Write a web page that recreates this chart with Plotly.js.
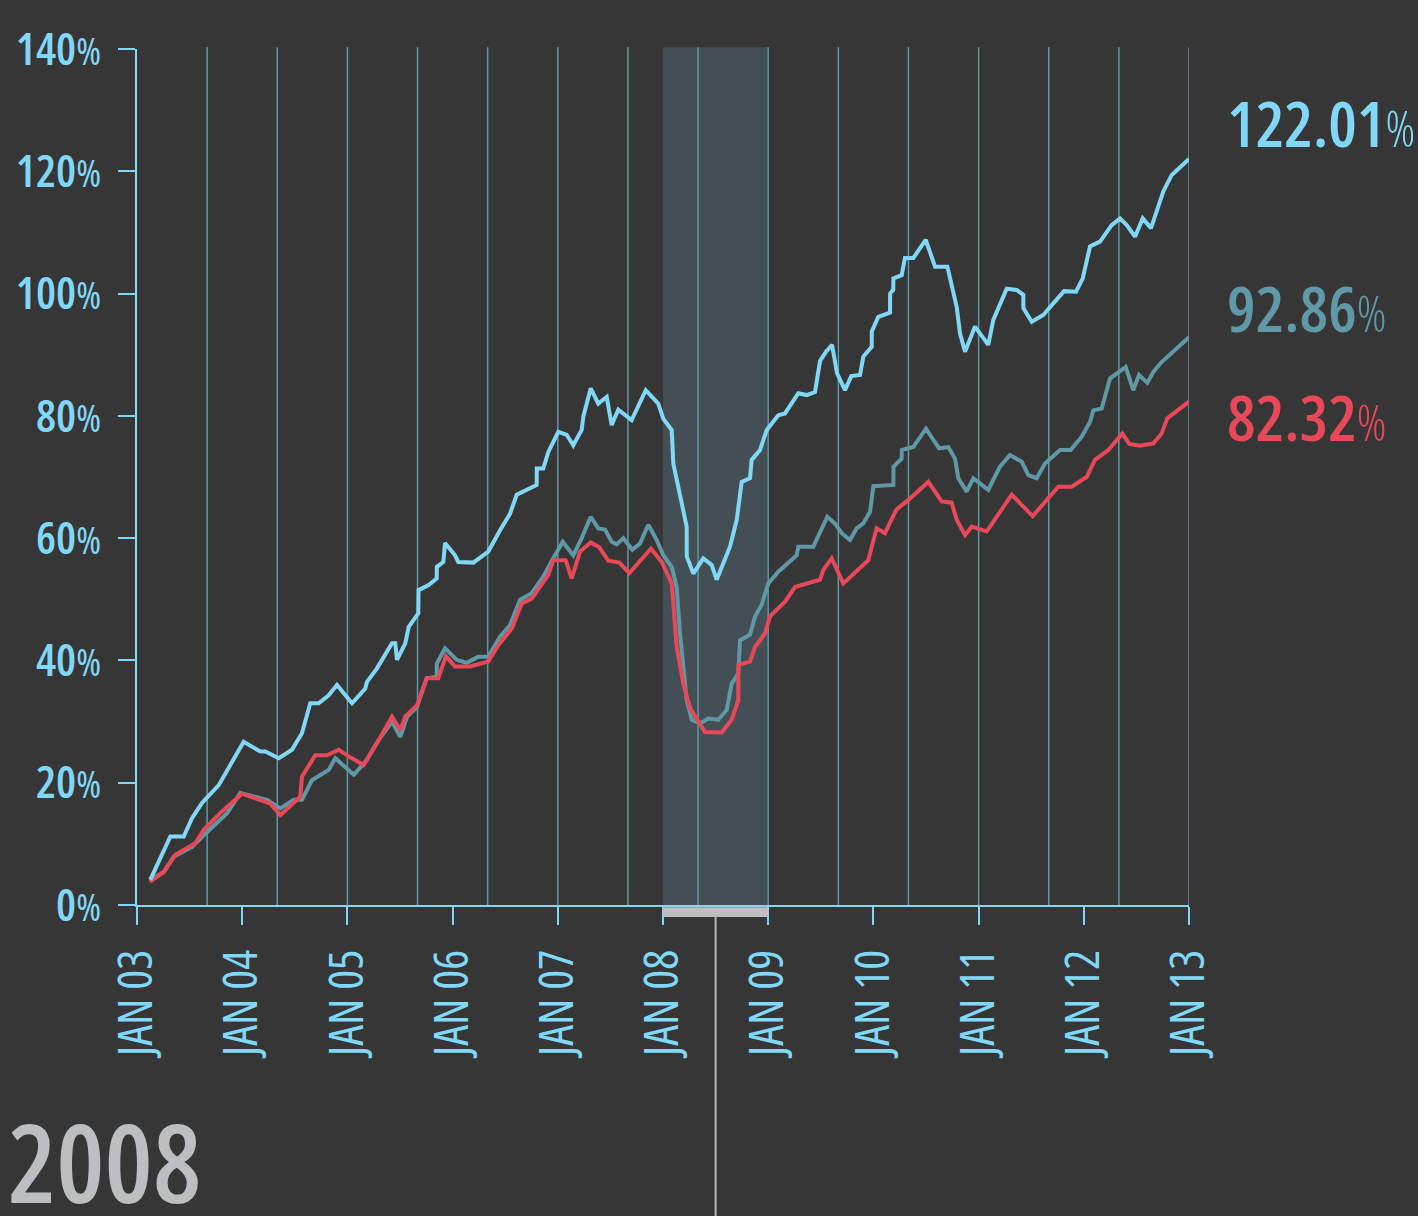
<!DOCTYPE html>
<html>
<head>
<meta charset="utf-8">
<script src="https://cdn.plot.ly/plotly-3.0.1.min.js"></script>
<style>
  html, body { margin: 0; padding: 0; background: #363636; }
  #chart { width: 1418px; height: 1216px; }
</style>
</head>
<body>
<div id="chart"></div>
<script>
// ---------- DATA (x in decimal years, y in % growth) ----------
const seriesNames = ['Top', 'Middle', 'Bottom'];
const finalLabels = ['122.01', '92.86', '82.32'];

const topX = [2003.126,2003.317,2003.444,2003.523,2003.618,2003.777,2004.014,2004.172,2004.220,2004.347,2004.473,2004.568,2004.647,2004.727,2004.822,2004.901,2005.044,2005.170,2005.186,2005.281,2005.424,2005.455,2005.471,2005.550,2005.583,2005.674,2005.676,2005.769,2005.849,2005.850,2005.912,2005.928,2006.023,2006.054,2006.197,2006.339,2006.451,2006.546,2006.609,2006.736,2006.799,2006.800,2006.862,2006.910,2007.005,2007.085,2007.147,2007.227,2007.243,2007.313,2007.385,2007.465,2007.512,2007.575,2007.702,2007.836,2007.955,2008.003,2008.083,2008.098,2008.225,2008.226,2008.288,2008.383,2008.463,2008.510,2008.637,2008.701,2008.748,2008.827,2008.843,2008.922,2008.986,2009.096,2009.160,2009.286,2009.366,2009.445,2009.461,2009.493,2009.550,2009.607,2009.654,2009.730,2009.790,2009.873,2009.904,2009.984,2009.985,2010.047,2010.158,2010.159,2010.189,2010.190,2010.269,2010.300,2010.379,2010.497,2010.586,2010.703,2010.792,2010.823,2010.871,2010.966,2011.092,2011.140,2011.267,2011.362,2011.425,2011.426,2011.505,2011.615,2011.710,2011.812,2011.926,2011.990,2012.059,2012.154,2012.265,2012.344,2012.408,2012.487,2012.560,2012.639,2012.756,2012.836,2013.000];
const topY = [4.1,11.2,11.2,14.2,16.7,19.6,26.7,25.1,25.1,24.0,25.4,28.1,33.0,33.0,34.3,36.0,33.0,35.4,36.5,38.7,42.8,42.8,40.1,42.8,45.5,47.7,51.5,52.3,53.4,55.3,56.1,59.2,57.2,56.1,56.0,57.8,61.3,64.0,67.1,68.1,68.7,71.4,71.4,74.1,77.4,76.9,75.2,77.7,79.9,84.5,82.0,83.1,78.5,81.0,79.3,84.2,82.0,79.5,77.7,72.2,61.9,57.0,54.2,56.7,55.6,53.2,58.6,63.0,69.2,69.8,72.8,74.4,77.7,80.1,80.4,83.7,83.4,83.9,85.9,89.0,90.5,91.6,87.0,84.2,86.5,86.7,89.7,91.3,93.8,96.2,96.9,100.0,100.6,102.5,103.0,105.8,105.8,108.8,104.4,104.4,97.8,93.5,90.5,94.6,91.6,95.7,100.8,100.6,99.8,97.6,95.4,96.5,98.4,100.4,100.3,102.5,107.7,108.5,111.2,112.3,111.2,109.3,112.3,110.7,116.7,119.4,122.01];

const midX = [2003.126,2003.254,2003.349,2003.523,2003.634,2003.856,2003.982,2004.236,2004.362,2004.490,2004.568,2004.663,2004.822,2004.885,2005.060,2005.170,2005.298,2005.424,2005.503,2005.567,2005.662,2005.754,2005.849,2005.850,2005.928,2006.039,2006.134,2006.244,2006.339,2006.451,2006.546,2006.641,2006.752,2006.862,2006.957,2007.047,2007.147,2007.227,2007.313,2007.385,2007.449,2007.512,2007.560,2007.623,2007.708,2007.781,2007.860,2007.940,2008.003,2008.083,2008.130,2008.162,2008.225,2008.273,2008.352,2008.431,2008.526,2008.606,2008.653,2008.716,2008.732,2008.827,2008.875,2008.938,2009.001,2009.096,2009.271,2009.286,2009.429,2009.562,2009.635,2009.699,2009.778,2009.841,2009.904,2009.968,2010.000,2010.190,2010.191,2010.269,2010.270,2010.379,2010.500,2010.624,2010.712,2010.776,2010.807,2010.887,2010.950,2011.092,2011.203,2011.298,2011.410,2011.473,2011.552,2011.631,2011.774,2011.875,2011.980,2012.059,2012.090,2012.170,2012.249,2012.398,2012.470,2012.525,2012.604,2012.661,2012.740,2012.851,2013.000];
const midY = [4.1,5.4,7.9,9.5,11.4,15.0,18.3,17.2,15.8,17.2,17.2,20.4,22.1,24.0,21.3,23.4,27.0,30.0,27.5,30.8,32.4,37.1,37.3,39.5,42.0,40.1,39.6,40.6,40.6,43.9,45.8,49.9,51.0,53.7,56.7,59.4,57.2,60.0,63.5,61.6,61.4,59.4,59.0,60.0,58.1,59.1,62.2,59.7,57.2,55.3,52.0,44.4,33.5,30.3,29.7,30.5,30.3,31.9,36.2,37.9,43.3,44.2,47.2,49.1,52.6,54.5,57.2,58.6,58.6,63.5,62.4,60.8,59.7,61.6,62.4,64.3,68.5,68.7,71.7,73.0,74.4,74.9,77.9,74.7,74.9,73.0,69.8,67.6,69.8,67.9,71.7,73.6,72.5,70.3,69.8,72.2,74.4,74.4,76.6,79.0,80.9,81.2,86.1,88.0,84.2,86.7,85.4,87.2,88.8,90.5,92.86];

const botX = [2003.121,2003.254,2003.364,2003.554,2003.634,2003.808,2003.998,2004.267,2004.362,2004.552,2004.568,2004.695,2004.806,2004.917,2005.012,2005.155,2005.298,2005.424,2005.503,2005.550,2005.662,2005.754,2005.864,2005.937,2006.023,2006.165,2006.339,2006.434,2006.562,2006.657,2006.752,2006.910,2006.957,2007.075,2007.132,2007.211,2007.313,2007.395,2007.480,2007.585,2007.680,2007.781,2007.886,2007.988,2008.035,2008.083,2008.130,2008.193,2008.257,2008.399,2008.558,2008.653,2008.716,2008.717,2008.827,2008.875,2008.970,2009.017,2009.160,2009.255,2009.493,2009.524,2009.604,2009.714,2009.951,2010.031,2010.110,2010.215,2010.348,2010.522,2010.649,2010.744,2010.792,2010.871,2010.935,2011.077,2011.315,2011.514,2011.758,2011.885,2012.028,2012.106,2012.233,2012.366,2012.433,2012.534,2012.661,2012.740,2012.793,2013.000];
const botY = [3.8,5.4,8.2,10.1,12.3,15.3,18.2,16.6,14.7,17.7,21.0,24.5,24.5,25.4,24.3,22.9,27.0,30.8,28.6,30.8,32.7,37.1,37.1,40.7,39.0,39.0,39.8,42.5,45.2,49.3,50.1,54.0,56.4,56.4,53.4,57.8,59.3,58.5,56.3,56.0,54.3,56.3,58.3,56.1,54.2,52.6,42.2,36.2,32.2,28.3,28.2,30.3,33.5,39.3,39.8,42.2,44.4,47.2,49.6,52.0,53.2,54.8,56.7,52.6,56.4,61.6,60.8,64.6,66.5,69.2,66.0,65.8,63.0,60.5,61.9,61.1,67.1,63.6,68.4,68.4,70.0,72.8,74.4,77.1,75.4,75.1,75.5,77.1,79.6,82.32];

// axis ticks
const yTickVals = [0, 20, 40, 60, 80, 100, 120, 140];
const xTickVals = [2003, 2004, 2005, 2006, 2007, 2008, 2009, 2010, 2011, 2012, 2013];
const xTickText = ['JAN 03','JAN 04','JAN 05','JAN 06','JAN 07','JAN 08','JAN 09','JAN 10','JAN 11','JAN 12','JAN 13'];
// vertical guide lines every 8 months
const gridVals = [2003.6667, 2004.3333, 2005, 2005.6667, 2006.3333, 2007, 2007.6667, 2008.3333, 2009, 2009.6667, 2010.3333, 2011, 2011.6667, 2012.3333, 2013];
const highlightStart = 2008;
const highlightEnd = 2009;
const highlightLabel = '2008';

// ---------- STYLE ----------
const BG = '#363636';
const LIGHT = '#80d8f6';
const TEAL = '#5f98a6';
const RED = '#e84858';
const FONT = '"Open Sans", "Roboto Condensed", sans-serif';
const colors = [LIGHT, TEAL, RED];
const cond = (s, extra) => '<span style="font-stretch:75%' + (extra ? ';' + extra : '') + '">' + s + '</span>';

const traces = [
  {x: topX, y: topY, name: seriesNames[0]},
  {x: midX, y: midY, name: seriesNames[1]},
  {x: botX, y: botY, name: seriesNames[2]}
].map((t, i) => Object.assign(t, {
  type: 'scatter', mode: 'lines',
  line: {color: colors[i], width: 4},
  hoverinfo: 'skip'
}));
const ordered = [traces[1], traces[2], traces[0]];

const shapes = [];
shapes.push({type: 'rect', xref: 'x', yref: 'paper', x0: highlightStart, x1: highlightEnd, y0: 0, y1: 1.002,
  fillcolor: '#434f55', line: {width: 0}, layer: 'below'});
gridVals.forEach(v => shapes.push({type: 'line', xref: 'x', yref: 'paper', x0: v, x1: v, y0: 0, y1: 1.002,
  line: {color: TEAL, width: 1.5}, layer: 'below'}));
shapes.push({type: 'rect', xref: 'x', yref: 'paper', x0: highlightStart, x1: highlightEnd, y0: -0.0025, y1: -0.014,
  fillcolor: '#bfbfbf', line: {width: 0}});
shapes.push({type: 'line', xref: 'x', yref: 'paper', x0: (highlightStart + highlightEnd) / 2, x1: (highlightStart + highlightEnd) / 2,
  y0: -0.014, y1: -0.37, line: {color: '#b5b5b5', width: 2}});

const labelY = [0.914, 0.698, 0.571];
const annotations = finalLabels.map((txt, i) => ({
  xref: 'paper', yref: 'paper', x: 1.034, y: labelY[i], xanchor: 'left', yanchor: 'middle',
  showarrow: false,
  text: cond(txt, 'font-weight:600') + cond('%', 'font-size:49px;font-weight:300'),
  font: {family: FONT, size: 64, color: colors[i]}
}));
annotations.push({
  xref: 'paper', yref: 'paper', x: -0.1245, y: -0.30, xanchor: 'left', yanchor: 'middle',
  showarrow: false, text: cond(highlightLabel, 'font-weight:600'),
  font: {family: FONT, size: 108, color: '#bdbec1'}
});

const layout = {
  width: 1418, height: 1216,
  paper_bgcolor: BG, plot_bgcolor: BG,
  margin: {l: 137, r: 229, t: 49, b: 311, pad: 0},
  showlegend: false,
  hovermode: false,
  xaxis: {
    type: 'linear', range: [2003, 2013], fixedrange: true,
    tickmode: 'array', tickvals: xTickVals, ticktext: xTickText.map(t => cond(t)),
    tickangle: -90, ticks: 'outside', ticklen: 18, tickwidth: 2, tickcolor: LIGHT,
    showgrid: false, zeroline: false,
    showline: true, linecolor: LIGHT, linewidth: 2,
    ticklabelstandoff: 6,
    tickfont: {family: FONT, size: 47, color: LIGHT}
  },
  yaxis: {
    range: [0, 140], fixedrange: true,
    tickmode: 'array', tickvals: yTickVals,
    ticktext: yTickVals.map(v => cond(String(v), 'font-weight:600') + cond('%', 'font-size:38px')),
    ticks: 'outside', ticklen: 17, tickwidth: 2, tickcolor: LIGHT,
    showgrid: false, zeroline: false,
    showline: true, linecolor: LIGHT, linewidth: 2,
    ticklabelstandoff: 8,
    tickfont: {family: FONT, size: 45, color: LIGHT}
  },
  shapes: shapes,
  annotations: annotations
};

Plotly.newPlot('chart', ordered, layout, {displayModeBar: false, staticPlot: true});
</script>
</body>
</html>
